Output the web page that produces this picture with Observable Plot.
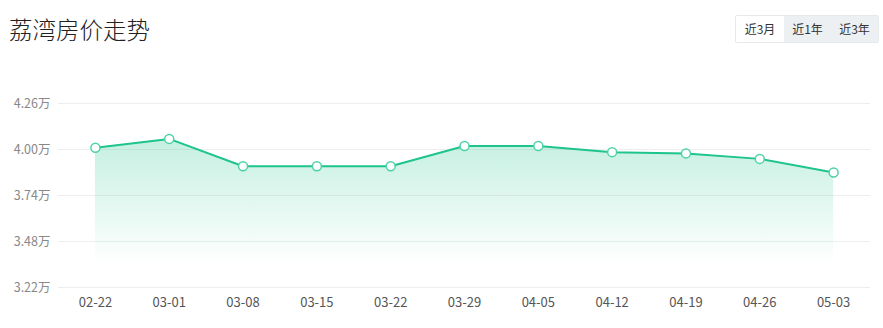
<!DOCTYPE html>
<html><head><meta charset="utf-8">
<script src="https://cdn.jsdelivr.net/npm/d3@7"></script>
<script src="https://cdn.jsdelivr.net/npm/@observablehq/plot@0.6"></script>
<style>
body{margin:0;background:#fff;font-family:"Noto Sans CJK SC","Noto Sans",sans-serif;}
#wrap{position:relative;width:883px;height:328px;}
#title{position:absolute;left:9px;top:13px;font-size:23.5px;color:#222;line-height:32px;font-weight:300;}
#btns{position:absolute;left:735px;top:15px;width:142px;height:26px;border:1px solid #e6e9ec;border-radius:2px;background:#edf0f3;display:flex;font-size:12px;color:#333;}
#btns div{line-height:26px;text-align:center;}
#chart{position:absolute;left:0;top:60px;}
</style></head>
<body><div id="wrap">
<div id="title">荔湾房价走势</div>
<div id="btns"><div style="width:48px;background:#fff">近3月</div><div style="width:47px">近1年</div><div style="width:47px">近3年</div></div>
<div id="chart"></div>
</div>
<script>
const dates = ["02-22","03-01","03-08","03-15","03-22","03-29","04-05","04-12","04-19","04-26","05-03"];
const prices = [4.01,4.06,3.905,3.905,3.905,4.02,4.02,3.985,3.978,3.947,3.87];
const yTicks = [3.22,3.48,3.74,4.00,4.26];
const data = dates.map((d,i)=>({d, v: prices[i]}));
const yMin = yTicks[0];

const gradient = () => {
  const ns = "http://www.w3.org/2000/svg";
  const defs = document.createElementNS(ns,"defs");
  const lg = document.createElementNS(ns,"linearGradient");
  lg.setAttribute("id","grad"); lg.setAttribute("x1","0"); lg.setAttribute("y1","0"); lg.setAttribute("x2","0"); lg.setAttribute("y2","1");
  [["0","#20c48c","0.26"],["0.85","#20c48c","0.0"],["1","#20c48c","0"]].forEach(([o,c,op])=>{
    const s=document.createElementNS(ns,"stop"); s.setAttribute("offset",o); s.setAttribute("stop-color",c); s.setAttribute("stop-opacity",op); lg.appendChild(s);
  });
  defs.appendChild(lg);
  return defs;
};

const chart = Plot.plot({
  width: 883, height: 268,
  marginTop: 43, marginBottom: 41, marginLeft: 58, marginRight: 13,
  style: {fontFamily: '"Noto Sans CJK SC", "Noto Sans", sans-serif', fontSize: "12px", overflow: "visible"},
  x: {type: "point", domain: dates, padding: 0.5, round: false, label: null},
  y: {domain: [yTicks[0], yTicks[yTicks.length-1]], label: null},
  marks: [
    gradient,
    Plot.gridY(yTicks, {stroke: "#eeeeee", strokeOpacity: 1}),
    Plot.areaY(data, {x: "d", y1: () => yMin, y2: "v", fill: "url(#grad)"}),
    Plot.lineY(data, {x: "d", y: "v", stroke: "#1ec48d", strokeWidth: 2}),
    Plot.dot(data, {x: "d", y: "v", r: 4.5, fill: "#fff", stroke: "#4dd3a3", strokeWidth: 1.5}),
    Plot.axisY(yTicks, {tickSize: 0, tickPadding: 8, fontSize: 12.5, tickFormat: d => d.toFixed(2) + "万", fill: "#888"}),
    Plot.axisX({tickSize: 0, tickPadding: 10, fontSize: 13, fill: "#555"})
  ]
});
document.getElementById("chart").appendChild(chart);
</script>
</body></html>
